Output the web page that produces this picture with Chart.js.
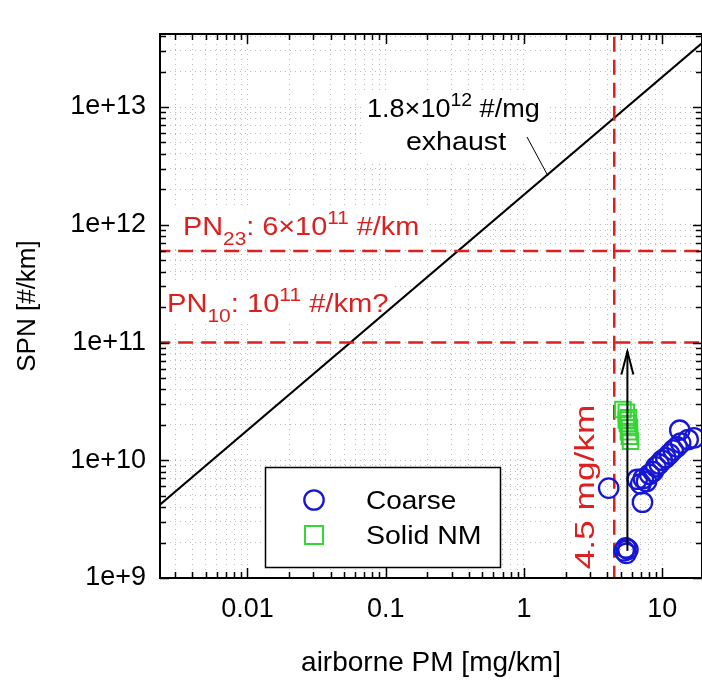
<!DOCTYPE html>
<html>
<head>
<meta charset="utf-8">
<script src="https://cdn.jsdelivr.net/npm/chart.js@4.4.1/dist/chart.umd.min.js"></script>
<style>
  html, body { margin: 0; padding: 0; background: #fff; overflow: hidden; }
  canvas { display: block; }
</style>
</head>
<body>
<canvas id="chart" width="702" height="680" style="width:702px;height:680px"></canvas>
<script>
// Data
const coarseX = [4.1, 5.3, 5.5, 5.65, 5.45, 7.2, 6.6, 7.0, 7.3, 7.7, 8.1, 8.6, 9.0, 9.5, 10.0, 10.6, 11.3, 12.0, 12.8, 13.6, 13.4, 15.4, 17.0];
const coarseY = [5.8e9, 1.7e9, 1.62e9, 1.75e9, 1.8e9, 4.4e9, 6.9e9, 6.3e9, 7.0e9, 6.6e9, 7.6e9, 8.0e9, 8.8e9, 9.3e9, 1.0e10, 1.05e10, 1.13e10, 1.22e10, 1.3e10, 1.4e10, 1.8e10, 1.5e10, 1.55e10];

const solidX = [5.2, 5.5, 5.7, 5.6, 5.8, 5.7, 5.8, 5.9, 5.5];
const solidY = [2.7e10, 2.55e10, 2.3e10, 2.05e10, 1.9e10, 1.75e10, 1.6e10, 1.45e10, 2.2e10];

// 1.8e12 #/mg exhaust line, end points
const exhaustX = [0.001, 100];
const exhaustY = [1.8e9, 1.8e14];

// limit lines
const pn23Y = 6e11;
const pn10Y = 1e11;
const pmLimitX = 4.5;

// arrow from the low coarse cluster up towards the PN10 limit
const arrowX = [5.6, 5.6];
const arrowY = [1.7e9, 8.4e10];

// axes
const xMin = 0.00233, xMax = 19.4;
const yMin = 1e9, yMax = 4.17e13;
const xMajor = [0.01, 0.1, 1, 10];
const xTickLabels = ['0.01', '0.1', '1', '10'];
const yMajor = [1e9, 1e10, 1e11, 1e12, 1e13];
const yTickLabels = ['1e+9', '1e+10', '1e+11', '1e+12', '1e+13'];

const FONT = "'Liberation Sans', Arial, sans-serif";
const BLUE = '#1616d4';
const GREEN = '#36d636';
const RED = '#dc1f1f';

function logTicks(min, max) {
  const out = [];
  for (let e = Math.floor(Math.log10(min)); e <= Math.ceil(Math.log10(max)); e++) {
    for (let m = 1; m <= 9; m++) {
      const v = m * Math.pow(10, e);
      if (v >= min && v <= max) out.push(v);
    }
  }
  return out;
}

function majorIndex(list, v) {
  return list.findIndex(m => Math.abs(Math.log10(v / m)) < 1e-6);
}

function pts(xs, ys) {
  return xs.map((x, i) => ({ x: x, y: ys[i] }));
}

// text with sub/superscripts, optionally stretched horizontally
function richText(ctx, parts, x, y, size, sx, color, opts) {
  opts = opts || {};
  ctx.save();
  ctx.translate(x, y);
  if (opts.rotate) ctx.rotate(opts.rotate);
  ctx.scale(sx, 1);
  ctx.fillStyle = color;
  ctx.textBaseline = 'alphabetic';
  ctx.textAlign = 'left';
  let w = 0;
  parts.forEach(p => {
    ctx.font = ((p.sub || p.sup) ? size * 0.72 : size) + 'px ' + FONT;
    w += ctx.measureText(p.t).width;
  });
  let cx = opts.center ? -w / 2 : 0;
  parts.forEach(p => {
    const s = (p.sub || p.sup) ? size * 0.72 : size;
    ctx.font = s + 'px ' + FONT;
    const dy = p.sub ? size * 0.38 : p.sup ? -size * 0.42 : 0;
    ctx.fillText(p.t, cx, dy);
    cx += ctx.measureText(p.t).width;
  });
  ctx.restore();
}

// white boxes behind the annotations
const textBoxes = [
  [363, 90, 549, 160],
  [164, 207, 428, 246],
  [164, 282, 393, 320],
  [571, 400, 601, 574]
];

const decorPlugin = {
  id: 'decor',
  beforeDatasetsDraw(chart) {
    const ctx = chart.ctx;
    ctx.save();
    ctx.fillStyle = '#fff';
    textBoxes.forEach(b => ctx.fillRect(b[0], b[1], b[2] - b[0], b[3] - b[1]));
    ctx.restore();
  },
  afterDraw(chart) {
    const ctx = chart.ctx;
    const { left, right, top, bottom } = chart.chartArea;
    const xs = chart.scales.x, ys = chart.scales.y;

    ctx.save();
    ctx.strokeStyle = '#000';
    ctx.lineWidth = 1.5;
    ctx.beginPath();
    xs.ticks.forEach(t => {
      const px = Math.round(xs.getPixelForValue(t.value)) + 0.5;
      const len = majorIndex(xMajor, t.value) >= 0 ? 10 : 6;
      ctx.moveTo(px, bottom); ctx.lineTo(px, bottom - len);
      ctx.moveTo(px, top); ctx.lineTo(px, top + len);
    });
    ys.ticks.forEach(t => {
      const py = Math.round(ys.getPixelForValue(t.value)) + 0.5;
      const len = majorIndex(yMajor, t.value) >= 0 ? 9 : 6;
      ctx.moveTo(left, py); ctx.lineTo(left + len, py);
      ctx.moveTo(right, py); ctx.lineTo(right - len, py);
    });
    ctx.stroke();

    ctx.lineWidth = 2;
    ctx.strokeRect(left, top, right - left, bottom - top);

    // arrow head (open)
    const ax = xs.getPixelForValue(arrowX[1]);
    const ay = ys.getPixelForValue(arrowY[1]);
    ctx.lineWidth = 2;
    ctx.beginPath();
    ctx.moveTo(ax - 6, ay + 23); ctx.lineTo(ax, ay); ctx.lineTo(ax + 6, ay + 23);
    ctx.stroke();

    // exhaust pointer
    ctx.lineWidth = 1;
    ctx.beginPath();
    ctx.moveTo(527, 137); ctx.lineTo(548, 176);
    ctx.stroke();

    // annotations
    richText(ctx, [{ t: '1.8×10' }, { t: '12', sup: true }, { t: ' #/mg' }], 367, 117, 26, 1.04, '#000');
    richText(ctx, [{ t: 'exhaust' }], 456, 150, 26, 1.1, '#000', { center: true });
    richText(ctx, [{ t: 'PN' }, { t: '23', sub: true }, { t: ': 6×10' }, { t: '11', sup: true }, { t: ' #/km' }], 183, 235, 26, 1.11, RED);
    richText(ctx, [{ t: 'PN' }, { t: '10', sub: true }, { t: ': 10' }, { t: '11', sup: true }, { t: ' #/km?' }], 167, 312, 26, 1.12, RED);
    richText(ctx, [{ t: '4.5 mg/km' }], 594, 487, 28, 1.26, RED, { center: true, rotate: -Math.PI / 2 });

    // legend
    const dsC = chart.data.datasets[1], dsS = chart.data.datasets[2];
    ctx.fillStyle = '#fff';
    ctx.fillRect(265, 467, 235, 100);
    ctx.strokeStyle = '#000';
    ctx.lineWidth = 1.5;
    ctx.strokeRect(265.5, 467.5, 235, 100);
    ctx.strokeStyle = dsC.borderColor;
    ctx.lineWidth = 2.3;
    ctx.beginPath();
    ctx.arc(314, 500, 9.7, 0, Math.PI * 2);
    ctx.stroke();
    ctx.strokeStyle = dsS.borderColor;
    ctx.lineWidth = 2;
    ctx.strokeRect(305, 526, 18, 18);
    richText(ctx, [{ t: dsC.label }], 366, 509, 25, 1.12, '#000');
    richText(ctx, [{ t: dsS.label }], 366, 544, 25, 1.14, '#000');
    ctx.restore();
  }
};

const redDash = { borderColor: RED, borderWidth: 2.5, borderDash: [15, 8], pointRadius: 0, showLine: true, fill: false };

new Chart(document.getElementById('chart'), {
  type: 'scatter',
  data: {
    datasets: [
      { label: 'arrow', data: pts(arrowX, arrowY), showLine: true, borderColor: '#000', borderWidth: 2, pointRadius: 0 },
      { label: 'Coarse', data: pts(coarseX, coarseY), pointStyle: 'circle', pointRadius: 9.7, borderColor: BLUE, backgroundColor: 'rgba(0,0,0,0)', borderWidth: 2.3 },
      { label: 'Solid NM', data: pts(solidX, solidY), pointStyle: 'rect', pointRadius: 11, borderColor: GREEN, backgroundColor: 'rgba(0,0,0,0)', borderWidth: 2 },
      Object.assign({ label: 'PN23', data: pts([0.001, 100], [pn23Y, pn23Y]) }, redDash),
      Object.assign({ label: 'PN10', data: pts([0.001, 100], [pn10Y, pn10Y]) }, redDash),
      Object.assign({ label: '4.5 mg/km', data: pts([pmLimitX, pmLimitX], [1e8, 1e15]) }, redDash),
      { label: 'exhaust', data: pts(exhaustX, exhaustY), showLine: true, borderColor: '#000', borderWidth: 2, pointRadius: 0 }
    ]
  },
  options: {
    responsive: false,
    animation: false,
    events: [],
    // right padding negative: the plot runs past the picture's right edge
    layout: { autoPadding: false, padding: { top: 34, right: -3, left: 0, bottom: 0 } },
    plugins: { legend: { display: false }, tooltip: { enabled: false } },
    scales: {
      x: {
        type: 'logarithmic',
        min: xMin,
        max: xMax,
        afterBuildTicks: s => { s.ticks = logTicks(xMin, xMax).map(v => ({ value: v })); },
        afterFit: s => { s.height = 102; s.paddingLeft = 0; s.paddingRight = 0; },
        ticks: {
          autoSkip: false, maxRotation: 0, padding: 15, color: '#000',
          font: { family: FONT, size: 27 },
          callback: v => { const i = majorIndex(xMajor, v); return i >= 0 ? xTickLabels[i] : ''; }
        },
        grid: { color: '#bcbcbc', lineWidth: 1, drawTicks: false },
        border: { display: false, dash: [1, 4] },
        title: { display: true, text: 'airborne PM [mg/km]', color: '#000', font: { family: FONT, size: 28 }, padding: { top: 0, bottom: 0 } }
      },
      y: {
        type: 'logarithmic',
        min: yMin,
        max: yMax,
        afterBuildTicks: s => { s.ticks = logTicks(yMin, yMax).map(v => ({ value: v })); },
        afterFit: s => { s.width = 160; s.paddingTop = 0; s.paddingBottom = 0; },
        ticks: {
          autoSkip: false, padding: 14, color: '#000',
          font: { family: FONT, size: 27 },
          callback: v => { const i = majorIndex(yMajor, v); return i >= 0 ? yTickLabels[i] : ''; }
        },
        grid: { color: '#bcbcbc', lineWidth: 1, drawTicks: false },
        border: { display: false, dash: [1, 4] },
        title: { display: true, text: 'SPN [#/km]', color: '#000', font: { family: FONT, size: 26 }, padding: { top: 12, bottom: 0 } }
      }
    }
  },
  plugins: [decorPlugin]
});
</script>
</body>
</html>
